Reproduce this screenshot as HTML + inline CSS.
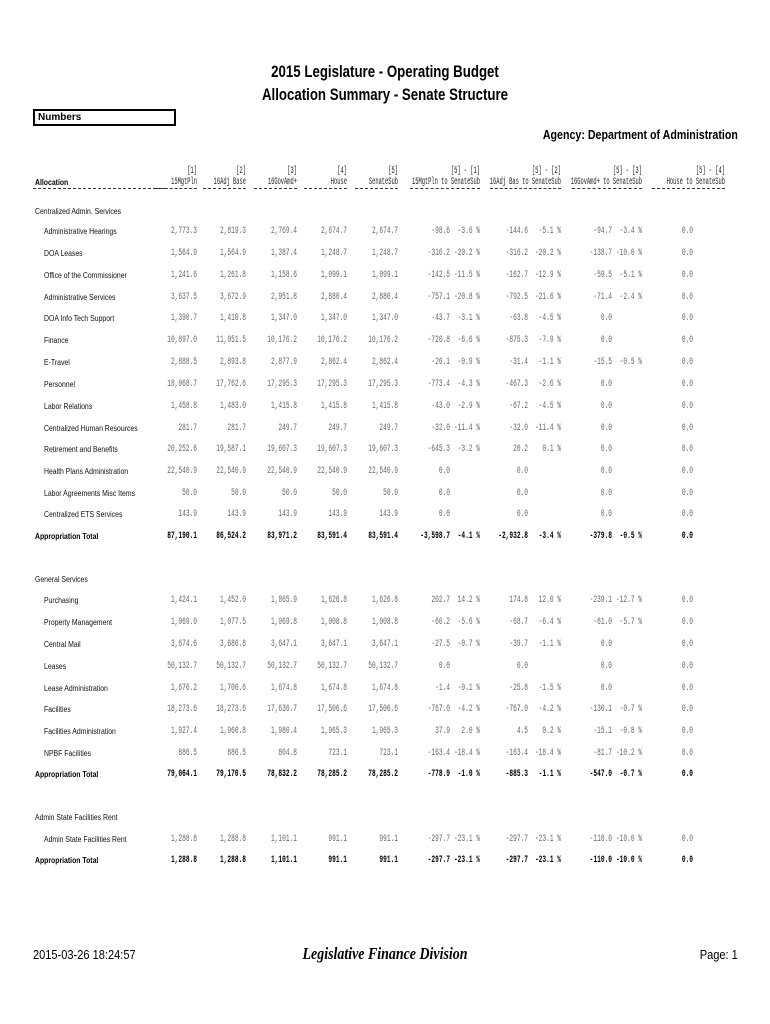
<!DOCTYPE html>
<html><head><meta charset="utf-8"><style>
*{margin:0;padding:0;box-sizing:border-box}
body{width:770px;height:1024px;background:#fff;position:relative;overflow:hidden;font-family:"Liberation Sans",sans-serif;color:#000}
.a{position:absolute;white-space:nowrap}
.t{left:0;width:770px;text-align:center;font-weight:bold;font-size:17px;transform:scaleX(.78);transform-origin:385px 0}
.r{position:absolute;left:0;width:770px;height:12px;line-height:12px}
.r span{position:absolute;top:0;font-family:"Liberation Mono",monospace;font-size:10px;color:#666;transform:scaleX(.62);transform-origin:right center;white-space:nowrap}
.r span.l{font-family:"Liberation Sans",sans-serif;font-size:8px;color:#111;left:44px;transform:scaleX(.86);transform-origin:left center}
.r.b span{color:#000;font-weight:bold}
.r.b span.l{left:35px}
.r span.h{font-family:"Liberation Sans",sans-serif;font-size:8px;left:35px;transform:scaleX(.86);transform-origin:left center;color:#111}
.c1{right:573px}.c2{right:524px}.c3{right:473px}.c4{right:423px}.c5{right:372px}
.p1{right:320px}.q1{right:290px}.p2{right:242px}.q2{right:209px}.p3{right:158px}.q3{right:128px}.p4{right:77px}
.r.hd span{color:#222;transform:scaleX(.54)}
.r.hd span.l{transform:scaleX(.86)}
.r.hd span.p4{right:45px}
.ul{position:absolute;border-top:1px dashed #333;height:0}
</style></head><body>
<div class="a t" style="top:62px">2015 Legislature - Operating Budget</div>
<div class="a t" style="top:85px">Allocation Summary - Senate Structure</div>
<div class="a" style="left:33px;top:109px;width:143px;height:17px;border:2px solid #000;font-size:10px;font-weight:bold;line-height:13px;padding-left:3px">Numbers</div>
<div class="a" style="right:32px;top:127px;font-size:13px;font-weight:bold;transform:scaleX(.82);transform-origin:right top">Agency: Department of Administration</div>

<div class="r hd" style="top:166px"><span class="c1">[1]</span><span class="c2">[2]</span><span class="c3">[3]</span><span class="c4">[4]</span><span class="c5">[5]</span><span class="q1">[5] - [1]</span><span class="q2">[5] - [2]</span><span class="q3">[5] - [3]</span><span class="p4">[5] - [4]</span></div>
<div class="r hd" style="top:177px"><span class="l" style="left:35px;font-weight:bold;color:#000">Allocation</span><span class="c1">15MgtPln</span><span class="c2">16Adj Base</span><span class="c3">16GovAmd+</span><span class="c4">House</span><span class="c5">SenateSub</span><span class="q1">15MgtPln to SenateSub</span><span class="q2">16Adj Bas to SenateSub</span><span class="q3">16GovAmd+ to SenateSub</span><span class="p4">House  to SenateSub</span></div>
<div class="ul" style="left:33px;top:188px;width:133px"></div>
<div class="ul" style="left:155px;top:188px;width:42px"></div>
<div class="ul" style="left:203px;top:188px;width:43px"></div>
<div class="ul" style="left:254px;top:188px;width:43px"></div>
<div class="ul" style="left:304px;top:188px;width:43px"></div>
<div class="ul" style="left:355px;top:188px;width:43px"></div>
<div class="ul" style="left:410px;top:188px;width:70px"></div>
<div class="ul" style="left:490px;top:188px;width:71px"></div>
<div class="ul" style="left:572px;top:188px;width:70px"></div>
<div class="ul" style="left:652px;top:188px;width:73px"></div>

<div class="r" style="top:206px"><span class="h">Centralized Admin. Services</span></div>
<div class="r" style="top:226px"><span class="l">Administrative Hearings</span><span class="c1">2,773.3</span><span class="c2">2,819.3</span><span class="c3">2,769.4</span><span class="c4">2,674.7</span><span class="c5">2,674.7</span><span class="p1">-98.6</span><span class="q1">-3.6 %</span><span class="p2">-144.6</span><span class="q2">-5.1 %</span><span class="p3">-94.7</span><span class="q3">-3.4 %</span><span class="p4">0.0</span></div>
<div class="r" style="top:248px"><span class="l">DOA Leases</span><span class="c1">1,564.9</span><span class="c2">1,564.9</span><span class="c3">1,387.4</span><span class="c4">1,248.7</span><span class="c5">1,248.7</span><span class="p1">-316.2</span><span class="q1">-20.2 %</span><span class="p2">-316.2</span><span class="q2">-20.2 %</span><span class="p3">-138.7</span><span class="q3">-10.0 %</span><span class="p4">0.0</span></div>
<div class="r" style="top:270px"><span class="l">Office of the Commissioner</span><span class="c1">1,241.6</span><span class="c2">1,261.8</span><span class="c3">1,158.6</span><span class="c4">1,099.1</span><span class="c5">1,099.1</span><span class="p1">-142.5</span><span class="q1">-11.5 %</span><span class="p2">-162.7</span><span class="q2">-12.9 %</span><span class="p3">-59.5</span><span class="q3">-5.1 %</span><span class="p4">0.0</span></div>
<div class="r" style="top:292px"><span class="l">Administrative Services</span><span class="c1">3,637.5</span><span class="c2">3,672.9</span><span class="c3">2,951.8</span><span class="c4">2,880.4</span><span class="c5">2,880.4</span><span class="p1">-757.1</span><span class="q1">-20.8 %</span><span class="p2">-792.5</span><span class="q2">-21.6 %</span><span class="p3">-71.4</span><span class="q3">-2.4 %</span><span class="p4">0.0</span></div>
<div class="r" style="top:313px"><span class="l">DOA Info Tech Support</span><span class="c1">1,390.7</span><span class="c2">1,410.8</span><span class="c3">1,347.0</span><span class="c4">1,347.0</span><span class="c5">1,347.0</span><span class="p1">-43.7</span><span class="q1">-3.1 %</span><span class="p2">-63.8</span><span class="q2">-4.5 %</span><span class="p3">0.0</span><span class="p4">0.0</span></div>
<div class="r" style="top:335px"><span class="l">Finance</span><span class="c1">10,897.0</span><span class="c2">11,051.5</span><span class="c3">10,176.2</span><span class="c4">10,176.2</span><span class="c5">10,176.2</span><span class="p1">-720.8</span><span class="q1">-6.6 %</span><span class="p2">-875.3</span><span class="q2">-7.9 %</span><span class="p3">0.0</span><span class="p4">0.0</span></div>
<div class="r" style="top:357px"><span class="l">E-Travel</span><span class="c1">2,888.5</span><span class="c2">2,893.8</span><span class="c3">2,877.9</span><span class="c4">2,862.4</span><span class="c5">2,862.4</span><span class="p1">-26.1</span><span class="q1">-0.9 %</span><span class="p2">-31.4</span><span class="q2">-1.1 %</span><span class="p3">-15.5</span><span class="q3">-0.5 %</span><span class="p4">0.0</span></div>
<div class="r" style="top:379px"><span class="l">Personnel</span><span class="c1">18,068.7</span><span class="c2">17,762.6</span><span class="c3">17,295.3</span><span class="c4">17,295.3</span><span class="c5">17,295.3</span><span class="p1">-773.4</span><span class="q1">-4.3 %</span><span class="p2">-467.3</span><span class="q2">-2.6 %</span><span class="p3">0.0</span><span class="p4">0.0</span></div>
<div class="r" style="top:401px"><span class="l">Labor Relations</span><span class="c1">1,458.8</span><span class="c2">1,483.0</span><span class="c3">1,415.8</span><span class="c4">1,415.8</span><span class="c5">1,415.8</span><span class="p1">-43.0</span><span class="q1">-2.9 %</span><span class="p2">-67.2</span><span class="q2">-4.5 %</span><span class="p3">0.0</span><span class="p4">0.0</span></div>
<div class="r" style="top:423px"><span class="l">Centralized Human Resources</span><span class="c1">281.7</span><span class="c2">281.7</span><span class="c3">249.7</span><span class="c4">249.7</span><span class="c5">249.7</span><span class="p1">-32.0</span><span class="q1">-11.4 %</span><span class="p2">-32.0</span><span class="q2">-11.4 %</span><span class="p3">0.0</span><span class="p4">0.0</span></div>
<div class="r" style="top:444px"><span class="l">Retirement and Benefits</span><span class="c1">20,252.6</span><span class="c2">19,587.1</span><span class="c3">19,607.3</span><span class="c4">19,607.3</span><span class="c5">19,607.3</span><span class="p1">-645.3</span><span class="q1">-3.2 %</span><span class="p2">20.2</span><span class="q2">0.1 %</span><span class="p3">0.0</span><span class="p4">0.0</span></div>
<div class="r" style="top:466px"><span class="l">Health Plans Administration</span><span class="c1">22,540.9</span><span class="c2">22,540.9</span><span class="c3">22,540.9</span><span class="c4">22,540.9</span><span class="c5">22,540.9</span><span class="p1">0.0</span><span class="p2">0.0</span><span class="p3">0.0</span><span class="p4">0.0</span></div>
<div class="r" style="top:488px"><span class="l">Labor Agreements Misc Items</span><span class="c1">50.0</span><span class="c2">50.0</span><span class="c3">50.0</span><span class="c4">50.0</span><span class="c5">50.0</span><span class="p1">0.0</span><span class="p2">0.0</span><span class="p3">0.0</span><span class="p4">0.0</span></div>
<div class="r" style="top:509px"><span class="l">Centralized ETS Services</span><span class="c1">143.9</span><span class="c2">143.9</span><span class="c3">143.9</span><span class="c4">143.9</span><span class="c5">143.9</span><span class="p1">0.0</span><span class="p2">0.0</span><span class="p3">0.0</span><span class="p4">0.0</span></div>
<div class="r b" style="top:531px"><span class="l">Appropriation Total</span><span class="c1">87,190.1</span><span class="c2">86,524.2</span><span class="c3">83,971.2</span><span class="c4">83,591.4</span><span class="c5">83,591.4</span><span class="p1">-3,598.7</span><span class="q1">-4.1 %</span><span class="p2">-2,932.8</span><span class="q2">-3.4 %</span><span class="p3">-379.8</span><span class="q3">-0.5 %</span><span class="p4">0.0</span></div>

<div class="r" style="top:574px"><span class="h">General Services</span></div>
<div class="r" style="top:595px"><span class="l">Purchasing</span><span class="c1">1,424.1</span><span class="c2">1,452.0</span><span class="c3">1,865.9</span><span class="c4">1,626.8</span><span class="c5">1,626.8</span><span class="p1">202.7</span><span class="q1">14.2 %</span><span class="p2">174.8</span><span class="q2">12.0 %</span><span class="p3">-239.1</span><span class="q3">-12.7 %</span><span class="p4">0.0</span></div>
<div class="r" style="top:617px"><span class="l">Property Management</span><span class="c1">1,069.0</span><span class="c2">1,077.5</span><span class="c3">1,069.8</span><span class="c4">1,008.8</span><span class="c5">1,008.8</span><span class="p1">-60.2</span><span class="q1">-5.6 %</span><span class="p2">-68.7</span><span class="q2">-6.4 %</span><span class="p3">-61.0</span><span class="q3">-5.7 %</span><span class="p4">0.0</span></div>
<div class="r" style="top:639px"><span class="l">Central Mail</span><span class="c1">3,674.6</span><span class="c2">3,686.8</span><span class="c3">3,647.1</span><span class="c4">3,647.1</span><span class="c5">3,647.1</span><span class="p1">-27.5</span><span class="q1">-0.7 %</span><span class="p2">-39.7</span><span class="q2">-1.1 %</span><span class="p3">0.0</span><span class="p4">0.0</span></div>
<div class="r" style="top:661px"><span class="l">Leases</span><span class="c1">50,132.7</span><span class="c2">50,132.7</span><span class="c3">50,132.7</span><span class="c4">50,132.7</span><span class="c5">50,132.7</span><span class="p1">0.0</span><span class="p2">0.0</span><span class="p3">0.0</span><span class="p4">0.0</span></div>
<div class="r" style="top:683px"><span class="l">Lease Administration</span><span class="c1">1,676.2</span><span class="c2">1,700.6</span><span class="c3">1,674.8</span><span class="c4">1,674.8</span><span class="c5">1,674.8</span><span class="p1">-1.4</span><span class="q1">-0.1 %</span><span class="p2">-25.8</span><span class="q2">-1.5 %</span><span class="p3">0.0</span><span class="p4">0.0</span></div>
<div class="r" style="top:704px"><span class="l">Facilities</span><span class="c1">18,273.6</span><span class="c2">18,273.6</span><span class="c3">17,636.7</span><span class="c4">17,506.6</span><span class="c5">17,506.6</span><span class="p1">-767.0</span><span class="q1">-4.2 %</span><span class="p2">-767.0</span><span class="q2">-4.2 %</span><span class="p3">-130.1</span><span class="q3">-0.7 %</span><span class="p4">0.0</span></div>
<div class="r" style="top:726px"><span class="l">Facilities Administration</span><span class="c1">1,927.4</span><span class="c2">1,960.8</span><span class="c3">1,980.4</span><span class="c4">1,965.3</span><span class="c5">1,965.3</span><span class="p1">37.9</span><span class="q1">2.0 %</span><span class="p2">4.5</span><span class="q2">0.2 %</span><span class="p3">-15.1</span><span class="q3">-0.8 %</span><span class="p4">0.0</span></div>
<div class="r" style="top:748px"><span class="l">NPBF Facilities</span><span class="c1">886.5</span><span class="c2">886.5</span><span class="c3">804.8</span><span class="c4">723.1</span><span class="c5">723.1</span><span class="p1">-163.4</span><span class="q1">-18.4 %</span><span class="p2">-163.4</span><span class="q2">-18.4 %</span><span class="p3">-81.7</span><span class="q3">-10.2 %</span><span class="p4">0.0</span></div>
<div class="r b" style="top:769px"><span class="l">Appropriation Total</span><span class="c1">79,064.1</span><span class="c2">79,170.5</span><span class="c3">78,832.2</span><span class="c4">78,285.2</span><span class="c5">78,285.2</span><span class="p1">-778.9</span><span class="q1">-1.0 %</span><span class="p2">-885.3</span><span class="q2">-1.1 %</span><span class="p3">-547.0</span><span class="q3">-0.7 %</span><span class="p4">0.0</span></div>

<div class="r" style="top:812px"><span class="h">Admin State Facilities Rent</span></div>
<div class="r" style="top:834px"><span class="l">Admin State Facilities Rent</span><span class="c1">1,288.8</span><span class="c2">1,288.8</span><span class="c3">1,101.1</span><span class="c4">991.1</span><span class="c5">991.1</span><span class="p1">-297.7</span><span class="q1">-23.1 %</span><span class="p2">-297.7</span><span class="q2">-23.1 %</span><span class="p3">-110.0</span><span class="q3">-10.0 %</span><span class="p4">0.0</span></div>
<div class="r b" style="top:855px"><span class="l">Appropriation Total</span><span class="c1">1,288.8</span><span class="c2">1,288.8</span><span class="c3">1,101.1</span><span class="c4">991.1</span><span class="c5">991.1</span><span class="p1">-297.7</span><span class="q1">-23.1 %</span><span class="p2">-297.7</span><span class="q2">-23.1 %</span><span class="p3">-110.0</span><span class="q3">-10.0 %</span><span class="p4">0.0</span></div>

<div class="a" style="left:33px;top:947px;font-size:13px;transform:scaleX(.85);transform-origin:left top">2015-03-26 18:24:57</div>
<div class="a" style="left:0;width:770px;text-align:center;top:944px;font-family:'Liberation Serif',serif;font-style:italic;font-weight:bold;font-size:17px;transform:scaleX(.82);transform-origin:385px 0">Legislative Finance Division</div>
<div class="a" style="right:32px;top:947px;font-size:13px;transform:scaleX(.85);transform-origin:right top">Page: 1</div>
</body></html>
